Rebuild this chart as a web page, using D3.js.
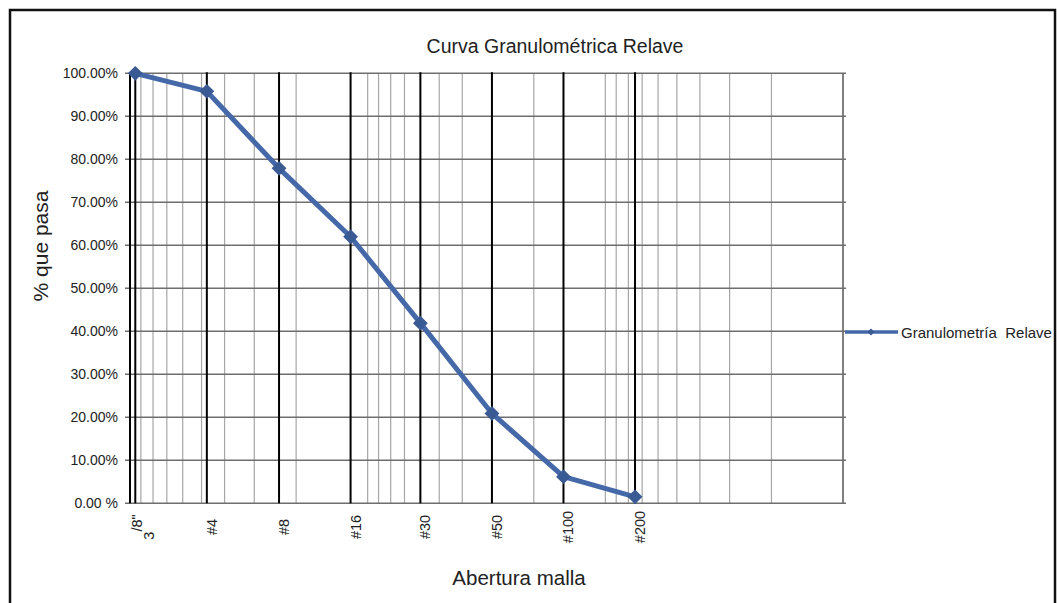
<!DOCTYPE html>
<html lang="es">
<head>
	<meta charset="utf-8">
	<title>Curva Granulométrica Relave</title>
	<style>
		body { margin: 0; background: #fff; }
		text { font-family: "Liberation Sans", Arial, sans-serif; fill: #222; }
		.minor { stroke: #a6a6a6; stroke-width: 1.2px; }
		.hgrid { stroke: #6e6e6e; stroke-width: 1.6px; }
		.sieve { stroke: #000; stroke-width: 2px; }
	</style>
</head>
<body>
	<div id="chart"></div>

	<script src="https://cdn.jsdelivr.net/npm/d3@7"></script>
	<script>
		// sieve names, openings (mm) and % passing
		var sieves = ['3/8"', "#4", "#8", "#16", "#30", "#50", "#100", "#200"];
		var openings = [9.5, 4.75, 2.36, 1.18, 0.6, 0.3, 0.15, 0.075];
		var passing = [1.0, 0.958, 0.779, 0.62, 0.419, 0.209, 0.062, 0.015];

		var yTicks = [0, 0.1, 0.2, 0.3, 0.4, 0.5, 0.6, 0.7, 0.8, 0.9, 1.0];
		var yTickLabels = ["0.00 %", "10.00%", "20.00%", "30.00%", "40.00%", "50.00%",
			"60.00%", "70.00%", "80.00%", "90.00%", "100.00%"];
		var xDomain = [10, 0.01];
		var seriesName = "Granulometría  Relave";

		var width = 1057,
		    height = 603;

		var svg = d3.select("#chart")
			.append("svg")
			.attr("width", width)
			.attr("height", height);

		// outer frame (bottom edge runs off the picture)
		svg.append("rect")
			.attr("x", 10).attr("y", 10)
			.attr("width", 1045).attr("height", 620)
			.attr("fill", "none")
			.attr("stroke", "#111")
			.attr("stroke-width", 2.5);

		var x = d3.scaleLog().domain(xDomain).range([130, 843]);
		var y = d3.scaleLinear().domain([0, 1]).range([503.3, 73.3]);

		// log minor grid: 1..9 x 10^n
		var minorTicks = [];
		[0.01, 0.1, 1].forEach(function(dec) {
			for (var k = 1; k <= 9; k++) minorTicks.push(+(k * dec).toFixed(4));
		});
		minorTicks.push(10);

		var grid = svg.append("g");

		grid.selectAll(".minor")
			.data(minorTicks)
		  .enter().append("line")
			.attr("class", "minor")
			.attr("x1", function(d) { return x(d); })
			.attr("x2", function(d) { return x(d); })
			.attr("y1", y(0)).attr("y2", y(1));

		grid.selectAll(".hgrid")
			.data(yTicks)
		  .enter().append("line")
			.attr("class", "hgrid")
			.attr("x1", 125).attr("x2", 846)
			.attr("y1", function(d) { return y(d); })
			.attr("y2", function(d) { return y(d); });

		// right edge of plot
		grid.append("line")
			.attr("class", "hgrid")
			.attr("x1", x(0.01)).attr("x2", x(0.01))
			.attr("y1", y(0)).attr("y2", y(1));

		// sieve lines + left axis in black
		grid.selectAll(".sieve")
			.data([10].concat(openings))
		  .enter().append("line")
			.attr("class", "sieve")
			.attr("x1", function(d) { return x(d); })
			.attr("x2", function(d) { return x(d); })
			.attr("y1", y(0)).attr("y2", y(1) - 1);

		// y labels
		svg.append("g").selectAll("text")
			.data(yTicks)
		  .enter().append("text")
			.attr("x", 118)
			.attr("y", function(d) { return y(d) + 5; })
			.attr("text-anchor", "end")
			.style("font-size", "14px")
			.text(function(d, i) { return yTickLabels[i]; });

		// x labels, rotated
		var xl = svg.append("g").selectAll("text")
			.data(sieves)
		  .enter().append("text")
			.attr("text-anchor", "middle")
			.style("font-size", "14.5px")
			.attr("transform", function(d, i) {
				var off = d.indexOf("/") > 0 ? 7 : 10;
				return "translate(" + (x(openings[i]) + off) + ",527) rotate(-90)";
			});

		xl.each(function(d) {
			var t = d3.select(this);
			var p = d.indexOf("/");
			if (p > 0) {
				t.append("tspan").attr("dy", 12).text(d.slice(0, p));
				t.append("tspan").attr("dy", -12).text(d.slice(p));
			} else {
				t.text(d);
			}
		});

		// curve
		var pts = openings.map(function(o, i) { return [x(o), y(passing[i])]; });

		svg.append("path")
			.attr("d", d3.line()(pts))
			.attr("fill", "none")
			.attr("stroke", "#4468a8")
			.attr("stroke-width", 5)
			.attr("stroke-linejoin", "round");

		var diamond = d3.symbol().type(d3.symbolSquare).size(110);

		svg.append("g").selectAll("path")
			.data(pts)
		  .enter().append("path")
			.attr("d", diamond)
			.attr("transform", function(d) { return "translate(" + d[0] + "," + d[1] + ") rotate(45)"; })
			.attr("fill", "#3a5a94");

		// titles
		svg.append("text")
			.attr("x", 555).attr("y", 53)
			.attr("text-anchor", "middle")
			.style("font-size", "19.5px")
			.text("Curva Granulométrica Relave");

		svg.append("text")
			.attr("x", 519).attr("y", 585)
			.attr("text-anchor", "middle")
			.style("font-size", "20.5px")
			.text("Abertura malla");

		svg.append("text")
			.attr("transform", "translate(48,246) rotate(-90)")
			.attr("text-anchor", "middle")
			.style("font-size", "21px")
			.text("% que pasa");

		// legend
		var leg = svg.append("g");
		leg.append("line")
			.attr("x1", 845).attr("x2", 898)
			.attr("y1", 332).attr("y2", 332)
			.attr("stroke", "#4468a8")
			.attr("stroke-width", 3.5);
		leg.append("path")
			.attr("d", d3.symbol().type(d3.symbolSquare).size(24))
			.attr("transform", "translate(871,332) rotate(45)")
			.attr("fill", "#3a5a94");
		leg.append("text")
			.attr("x", 901).attr("y", 337.5)
			.style("font-size", "15px")
			.style("white-space", "pre")
			.text(seriesName);
	</script>
</body>
</html>
